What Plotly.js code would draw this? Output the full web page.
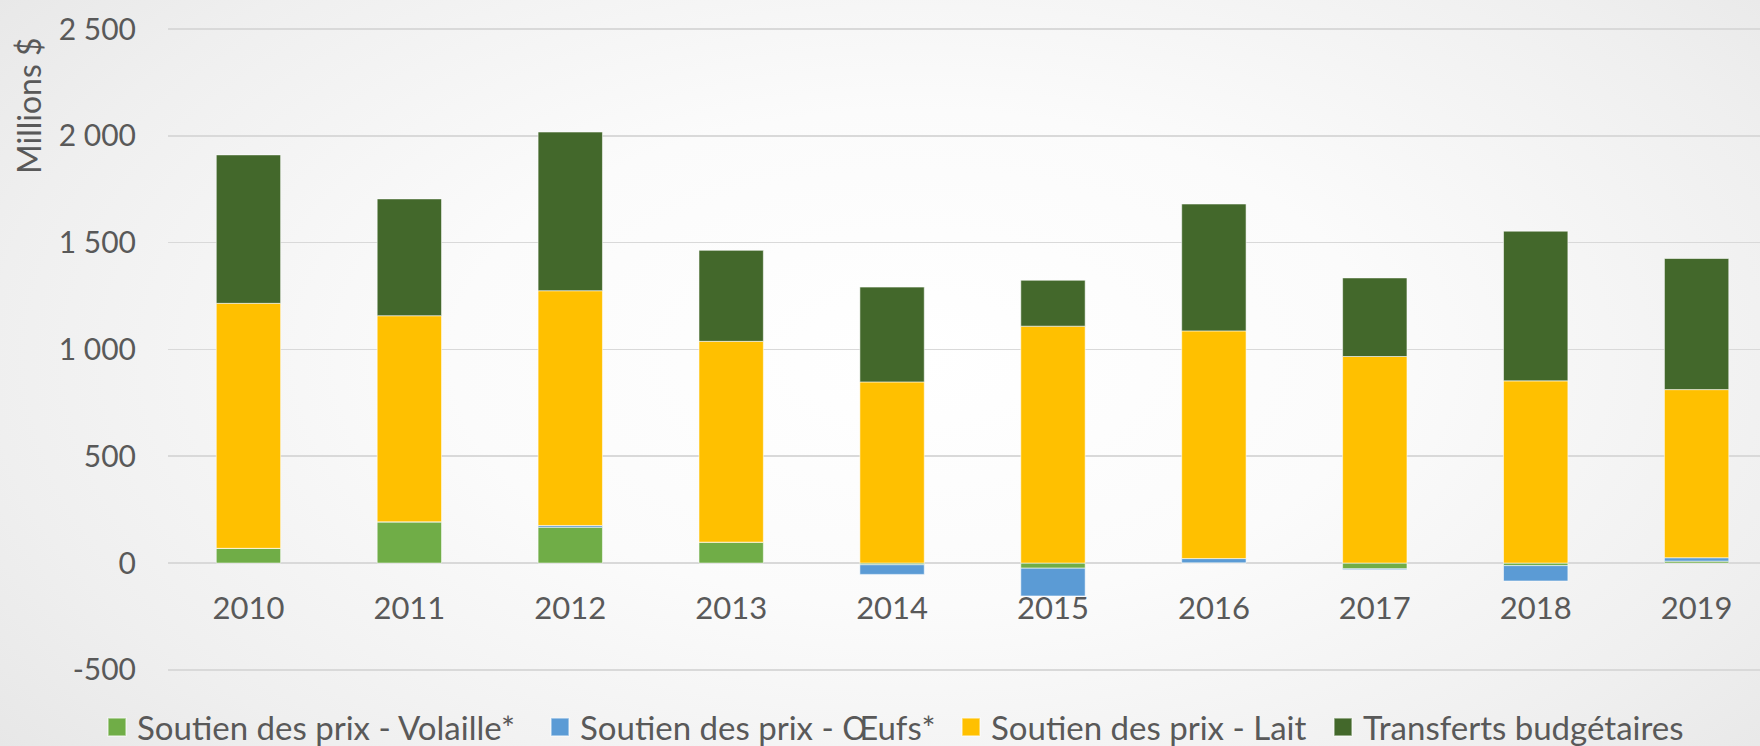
<!DOCTYPE html>
<html>
<head>
<meta charset="utf-8">
<script src="https://cdn.plot.ly/plotly-3.0.1.min.js"></script>
<style>
  html, body { margin: 0; padding: 0; width: 1760px; height: 746px; overflow: hidden; }
  body { background: radial-gradient(ellipse 75% 95% at 52% 48%, #ffffff 0%, #fbfbfb 35%, #efefef 70%, #e2e2e2 100%); }
  #chart { width: 1760px; height: 746px; }
</style>
</head>
<body>
<div id="chart"></div>
<script>
const years = ['2010', '2011', '2012', '2013', '2014', '2015', '2016', '2017', '2018', '2019'];
const volaille = [69, 193, 168, 98, -8, -24, 1, -27, -12, 9];
const oeufs = [0, 0, 8, 0, -45, -130, 20, -4, -72, 16];
const lait = [1147, 965, 1099, 940, 848, 1109, 1066, 967, 853, 787];
const transferts = [695, 547, 743, 426, 444, 215, 594, 368, 701, 614];

const seriesNames = ['Soutien des prix - Volaille*', 'Soutien des prix - Œufs*', 'Soutien des prix - Lait', 'Transferts budgétaires'];
const seriesColors = ['#70AD47', '#5B9BD5', '#FFC000', '#43682B'];

const yTickVals = [-500, 0, 500, 1000, 1500, 2000, 2500];
const yTickText = ['-500', '0', '500', '1 000', '1 500', '2 000', '2 500'];

const FONT = 'Lato, "Open Sans", sans-serif';
const TXT = '#595959';

const W = 1760, H = 746;
const legendIds = ['legend', 'legend2', 'legend3', 'legend4'];
const legendLeft = [97, 540, 951, 1323];

const seriesValues = [volaille, oeufs, lait, transferts];
const traces = seriesValues.map((vals, i) => ({
  type: 'bar',
  x: years,
  y: vals,
  name: seriesNames[i],
  legend: legendIds[i],
  marker: { color: seriesColors[i], line: { color: 'rgba(255,255,255,0.55)', width: 1 } },
  hoverinfo: 'x+y+name'
}));

const layout = {
  width: W,
  height: H,
  margin: { l: 168, r: 0, t: 28, b: 74, pad: 0 },
  paper_bgcolor: 'rgba(0,0,0,0)',
  plot_bgcolor: 'rgba(0,0,0,0)',
  barmode: 'relative',
  bargap: 0.6,
  font: { family: FONT, color: TXT, size: 31 },
  showlegend: true,
  xaxis: {
    type: 'category',
    range: [-0.5, 9.394],
    anchor: 'free',
    position: 510 / 3015,
    showgrid: false,
    showline: false,
    zeroline: false,
    ticks: '',
    ticklabelstandoff: 24,
    tickfont: { family: FONT, size: 31, color: TXT }
  },
  yaxis: {
    range: [-510, 2505],
    tickvals: yTickVals,
    ticktext: yTickText,
    showgrid: true,
    gridcolor: '#d9d9d9',
    gridwidth: 1.6,
    zeroline: true,
    zerolinecolor: '#d9d9d9',
    zerolinewidth: 1.6,
    showline: false,
    ticks: '',
    ticklabelstandoff: 31,
    tickfont: { family: FONT, size: 30, color: TXT }
  },
  annotations: [{
    text: 'Millions $',
    xref: 'paper', yref: 'paper',
    x: (29 - 168) / 1592, y: (672 - 106) / 644,
    xanchor: 'center', yanchor: 'middle',
    textangle: -90,
    showarrow: false,
    font: { family: FONT, size: 32, color: TXT }
  }]
};

legendIds.forEach((id, i) => {
  layout[id] = {
    orientation: 'h',
    xref: 'container', yref: 'container',
    x: legendLeft[i] / W, xanchor: 'left',
    y: (H - 727) / H, yanchor: 'middle',
    font: { family: FONT, size: 33, color: TXT },
    bgcolor: 'rgba(0,0,0,0)',
    borderwidth: 0
  };
});

Plotly.newPlot('chart', traces, layout, { displayModeBar: false, staticPlot: true }).then(() => {
  document.querySelectorAll('.legendpoints path').forEach(p => {
    const t = p.getAttribute('transform') || '';
    p.setAttribute('transform', t + ' scale(1.5)');
  });
});
</script>
</body>
</html>
